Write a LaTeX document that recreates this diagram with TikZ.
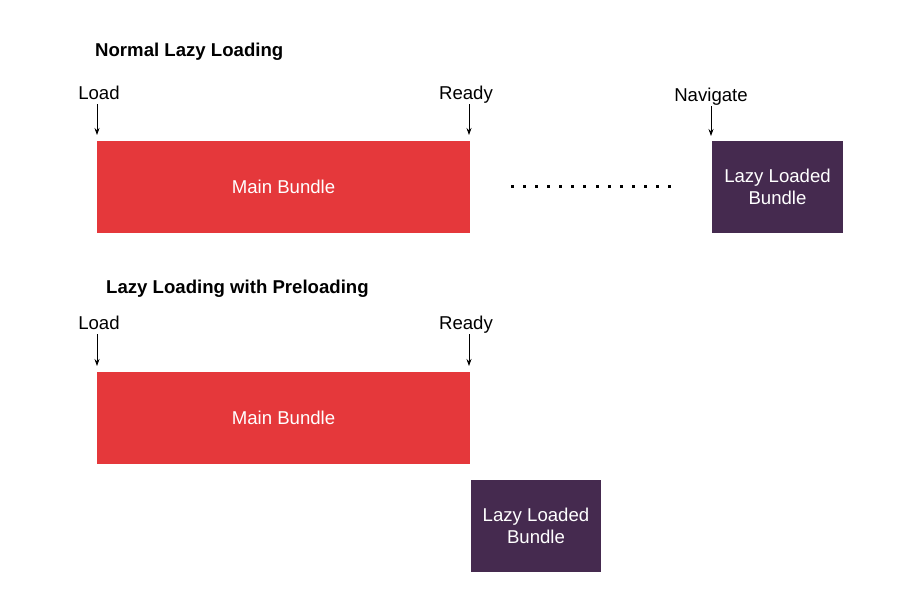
\documentclass[tikz,border=0pt]{standalone}
\usepackage{fontspec}
\setmainfont{Liberation Sans}
\usetikzlibrary{arrows.meta}
\definecolor{mainred}{HTML}{E5383B}
\definecolor{lazypurple}{HTML}{452A4F}
\tikzset{
  mainbox/.style={fill=mainred, draw=none, text=white, inner sep=0pt},
  lazybox/.style={fill=lazypurple, draw=none, text=white, inner sep=0pt, align=center},
  marker/.style={text=black, inner sep=0pt, anchor=base},
  heading/.style={text=black, inner sep=0pt, anchor=west, font=\fontsize{18.6}{22}\selectfont\bfseries},
  tick/.style={-{Stealth[length=7pt,width=5pt]}, line width=0.8pt, black},
  dot/.style={fill=black, draw=none}
}
\begin{document}
\begin{tikzpicture}[x=1pt,y=-1pt,font=\fontsize{18.6}{22}\selectfont]
\useasboundingbox (0,0) rectangle (917,610);
% ---------- Normal lazy loading ----------
\node[heading] (h1) at (95,51.5) {Normal Lazy Loading};
\node[mainbox, minimum width=373pt, minimum height=92pt] (mb1) at (283.5,187) {Main Bundle};
\node[lazybox, minimum width=131pt, minimum height=92pt] (lb1) at (777.5,187) {Lazy Loaded\\Bundle};
\node[marker] (load1) at (99,99) {Load};
\node[marker] (ready1) at (466,99) {Ready};
\node[marker] (nav1) at (711,101) {Navigate};
\coordinate (l1a) at (97,104); \coordinate (l1b) at (97,135);
\coordinate (r1a) at (469,104); \coordinate (r1b) at (469,135);
\coordinate (n1a) at (711,106); \coordinate (n1b) at (711,136);
\draw[tick] (l1a) -- (l1b);
\draw[tick] (r1a) -- (r1b);
\draw[tick] (n1a) -- (n1b);
\foreach \i in {0,...,13} {
  \fill[dot] (512+\i*12.15-1.5,186-1.5) rectangle ++(3,3);
}
% ---------- Lazy loading with preloading ----------
\node[heading] (h2) at (106,288.5) {Lazy Loading with Preloading};
\node[mainbox, minimum width=373pt, minimum height=92pt] (mb2) at (283.5,418) {Main Bundle};
\node[lazybox, minimum width=130pt, minimum height=92pt] (lb2) at (536,526) {Lazy Loaded\\Bundle};
\node[marker] (load2) at (99,329) {Load};
\node[marker] (ready2) at (466,329) {Ready};
\coordinate (l2a) at (97,334); \coordinate (l2b) at (97,366);
\coordinate (r2a) at (469,334); \coordinate (r2b) at (469,366);
\draw[tick] (l2a) -- (l2b);
\draw[tick] (r2a) -- (r2b);
\end{tikzpicture}
\end{document}
